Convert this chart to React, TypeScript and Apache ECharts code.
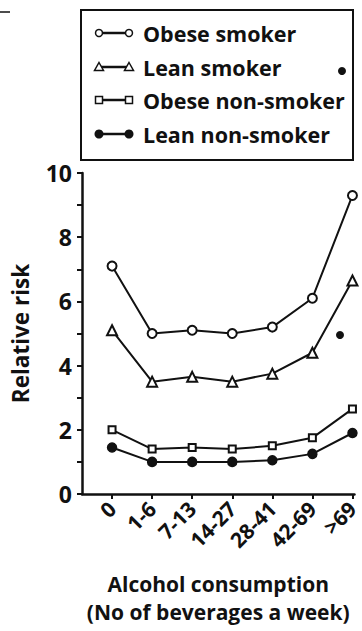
import React, { useEffect, useRef } from "react";
import * as echarts from "echarts";

const categories = ["0", "1-6", "7-13", "14-27", "28-41", "42-69", ">69"];
const seriesNames = ["Obese smoker", "Lean smoker", "Obese non-smoker", "Lean non-smoker"];
const obeseSmoker = [7.1, 5.0, 5.1, 5.0, 5.2, 6.1, 9.3];
const leanSmoker = [5.1, 3.5, 3.65, 3.5, 3.75, 4.4, 6.65];
const obeseNonSmoker = [2.0, 1.4, 1.45, 1.4, 1.5, 1.75, 2.65];
const leanNonSmoker = [1.45, 1.0, 1.0, 1.0, 1.05, 1.25, 1.9];
const yTicks = [0, 2, 4, 6, 8, 10];

const FONT = "'Open Sans'";
const INK = "#111";

export default function App() {
  const ref = useRef<HTMLDivElement>(null);
  useEffect(() => {
    if (!ref.current) return;
    const chart = echarts.init(ref.current, null, { renderer: "svg" });
    const valueSets = [obeseSmoker, leanSmoker, obeseNonSmoker, leanNonSmoker];
    const symbols = ["emptyCircle", "emptyTriangle", "emptyRect", "circle"];
    const sizes = [9, 10, 7, 9];
    const idx = categories.map((_, i) => i);

    const rowsY = [33, 67, 100, 134];
    const legendChildren: any[] = [
      {
        type: "rect",
        shape: { x: 81, y: 10, width: 272, height: 150 },
        style: { fill: "none", stroke: INK, lineWidth: 2 },
      },
    ];
    const marker = (k: number, x: number, y: number) => {
      if (k === 0)
        return { type: "circle", shape: { cx: x, cy: y, r: 3.5 }, style: { fill: "#fff", stroke: INK, lineWidth: 1.5 } };
      if (k === 1)
        return {
          type: "polygon",
          shape: { points: [[x, y - 4.5], [x + 4.5, y + 3.5], [x - 4.5, y + 3.5]] },
          style: { fill: "#fff", stroke: INK, lineWidth: 1.5 },
        };
      if (k === 2)
        return { type: "rect", shape: { x: x - 3.5, y: y - 3.5, width: 7, height: 7 }, style: { fill: "#fff", stroke: INK, lineWidth: 1.5 } };
      return { type: "circle", shape: { cx: x, cy: y, r: 4.5 }, style: { fill: INK } };
    };
    seriesNames.forEach((name, k) => {
      const y = rowsY[k];
      legendChildren.push({
        type: "line",
        shape: { x1: 99, y1: y, x2: 129, y2: y },
        style: { stroke: INK, lineWidth: 2.5 },
      });
      legendChildren.push(marker(k, 99, y));
      legendChildren.push(marker(k, 129, y));
      legendChildren.push({
        type: "text",
        x: 143,
        y: y,
        style: { text: name, fill: INK, font: `bold 21.5px ${FONT}`, verticalAlign: "middle", align: "left" },
      });
    });

    const option: any = {
      animation: false,
      backgroundColor: "#fff",
      grid: { left: 82, right: 7, top: 173, bottom: 131, containLabel: false },
      xAxis: {
        type: "value",
        min: -0.75,
        max: 6.05,
        splitLine: { show: false },
        axisLine: { show: true, onZero: false, lineStyle: { color: INK, width: 2.5 } },
        axisTick: { show: true, customValues: idx, length: 5, lineStyle: { color: INK, width: 2 } },
        axisLabel: {
          customValues: idx,
          formatter: (v: number) => categories[Math.round(v)] ?? "",
          rotate: 45,
          margin: 11,
          color: INK,
          fontFamily: FONT,
          fontWeight: "bold",
          fontSize: 21,
        },
        name: "Alcohol consumption\n(No of beverages a week)",
        nameLocation: "middle",
        nameGap: 76,
        nameTextStyle: { color: INK, fontFamily: FONT, fontWeight: "bold", fontSize: 21, lineHeight: 28 },
      },
      yAxis: {
        type: "value",
        min: 0,
        max: 10,
        interval: 1,
        splitLine: { show: false },
        axisLine: { show: true, onZero: false, lineStyle: { color: INK, width: 2.5 } },
        axisTick: { show: true, length: 5, lineStyle: { color: INK, width: 2 } },
        axisLabel: {
          formatter: (v: number) => (yTicks.includes(v) ? String(v) : ""),
          margin: 10,
          color: INK,
          fontFamily: FONT,
          fontWeight: "bold",
          fontSize: 23,
        },
        name: "Relative risk",
        nameLocation: "middle",
        nameGap: 50,
        nameTextStyle: { color: INK, fontFamily: FONT, fontWeight: "bold", fontSize: 22.5 },
      },
      series: valueSets.map((vals, k) => ({
        type: "line",
        name: seriesNames[k],
        data: idx.map((i) => [i, vals[i]]),
        symbol: symbols[k],
        symbolSize: sizes[k],
        lineStyle: { color: INK, width: 2 },
        itemStyle: { color: INK, borderColor: INK, borderWidth: 1.5 },
        z: 3,
      })),
      graphic: [
        ...legendChildren,
        { type: "line", shape: { x1: 0, y1: 12, x2: 10, y2: 12 }, style: { stroke: INK, lineWidth: 1.5 } },
        { type: "circle", shape: { cx: 342, cy: 71, r: 4 }, style: { fill: INK } },
        { type: "circle", shape: { cx: 340, cy: 335, r: 4 }, style: { fill: INK } },
      ],
    };
    chart.setOption(option);
    return () => chart.dispose();
  }, []);
  return <div ref={ref} style={{ position: "fixed", left: 0, top: 0, width: 362, height: 631 }} />;
}
